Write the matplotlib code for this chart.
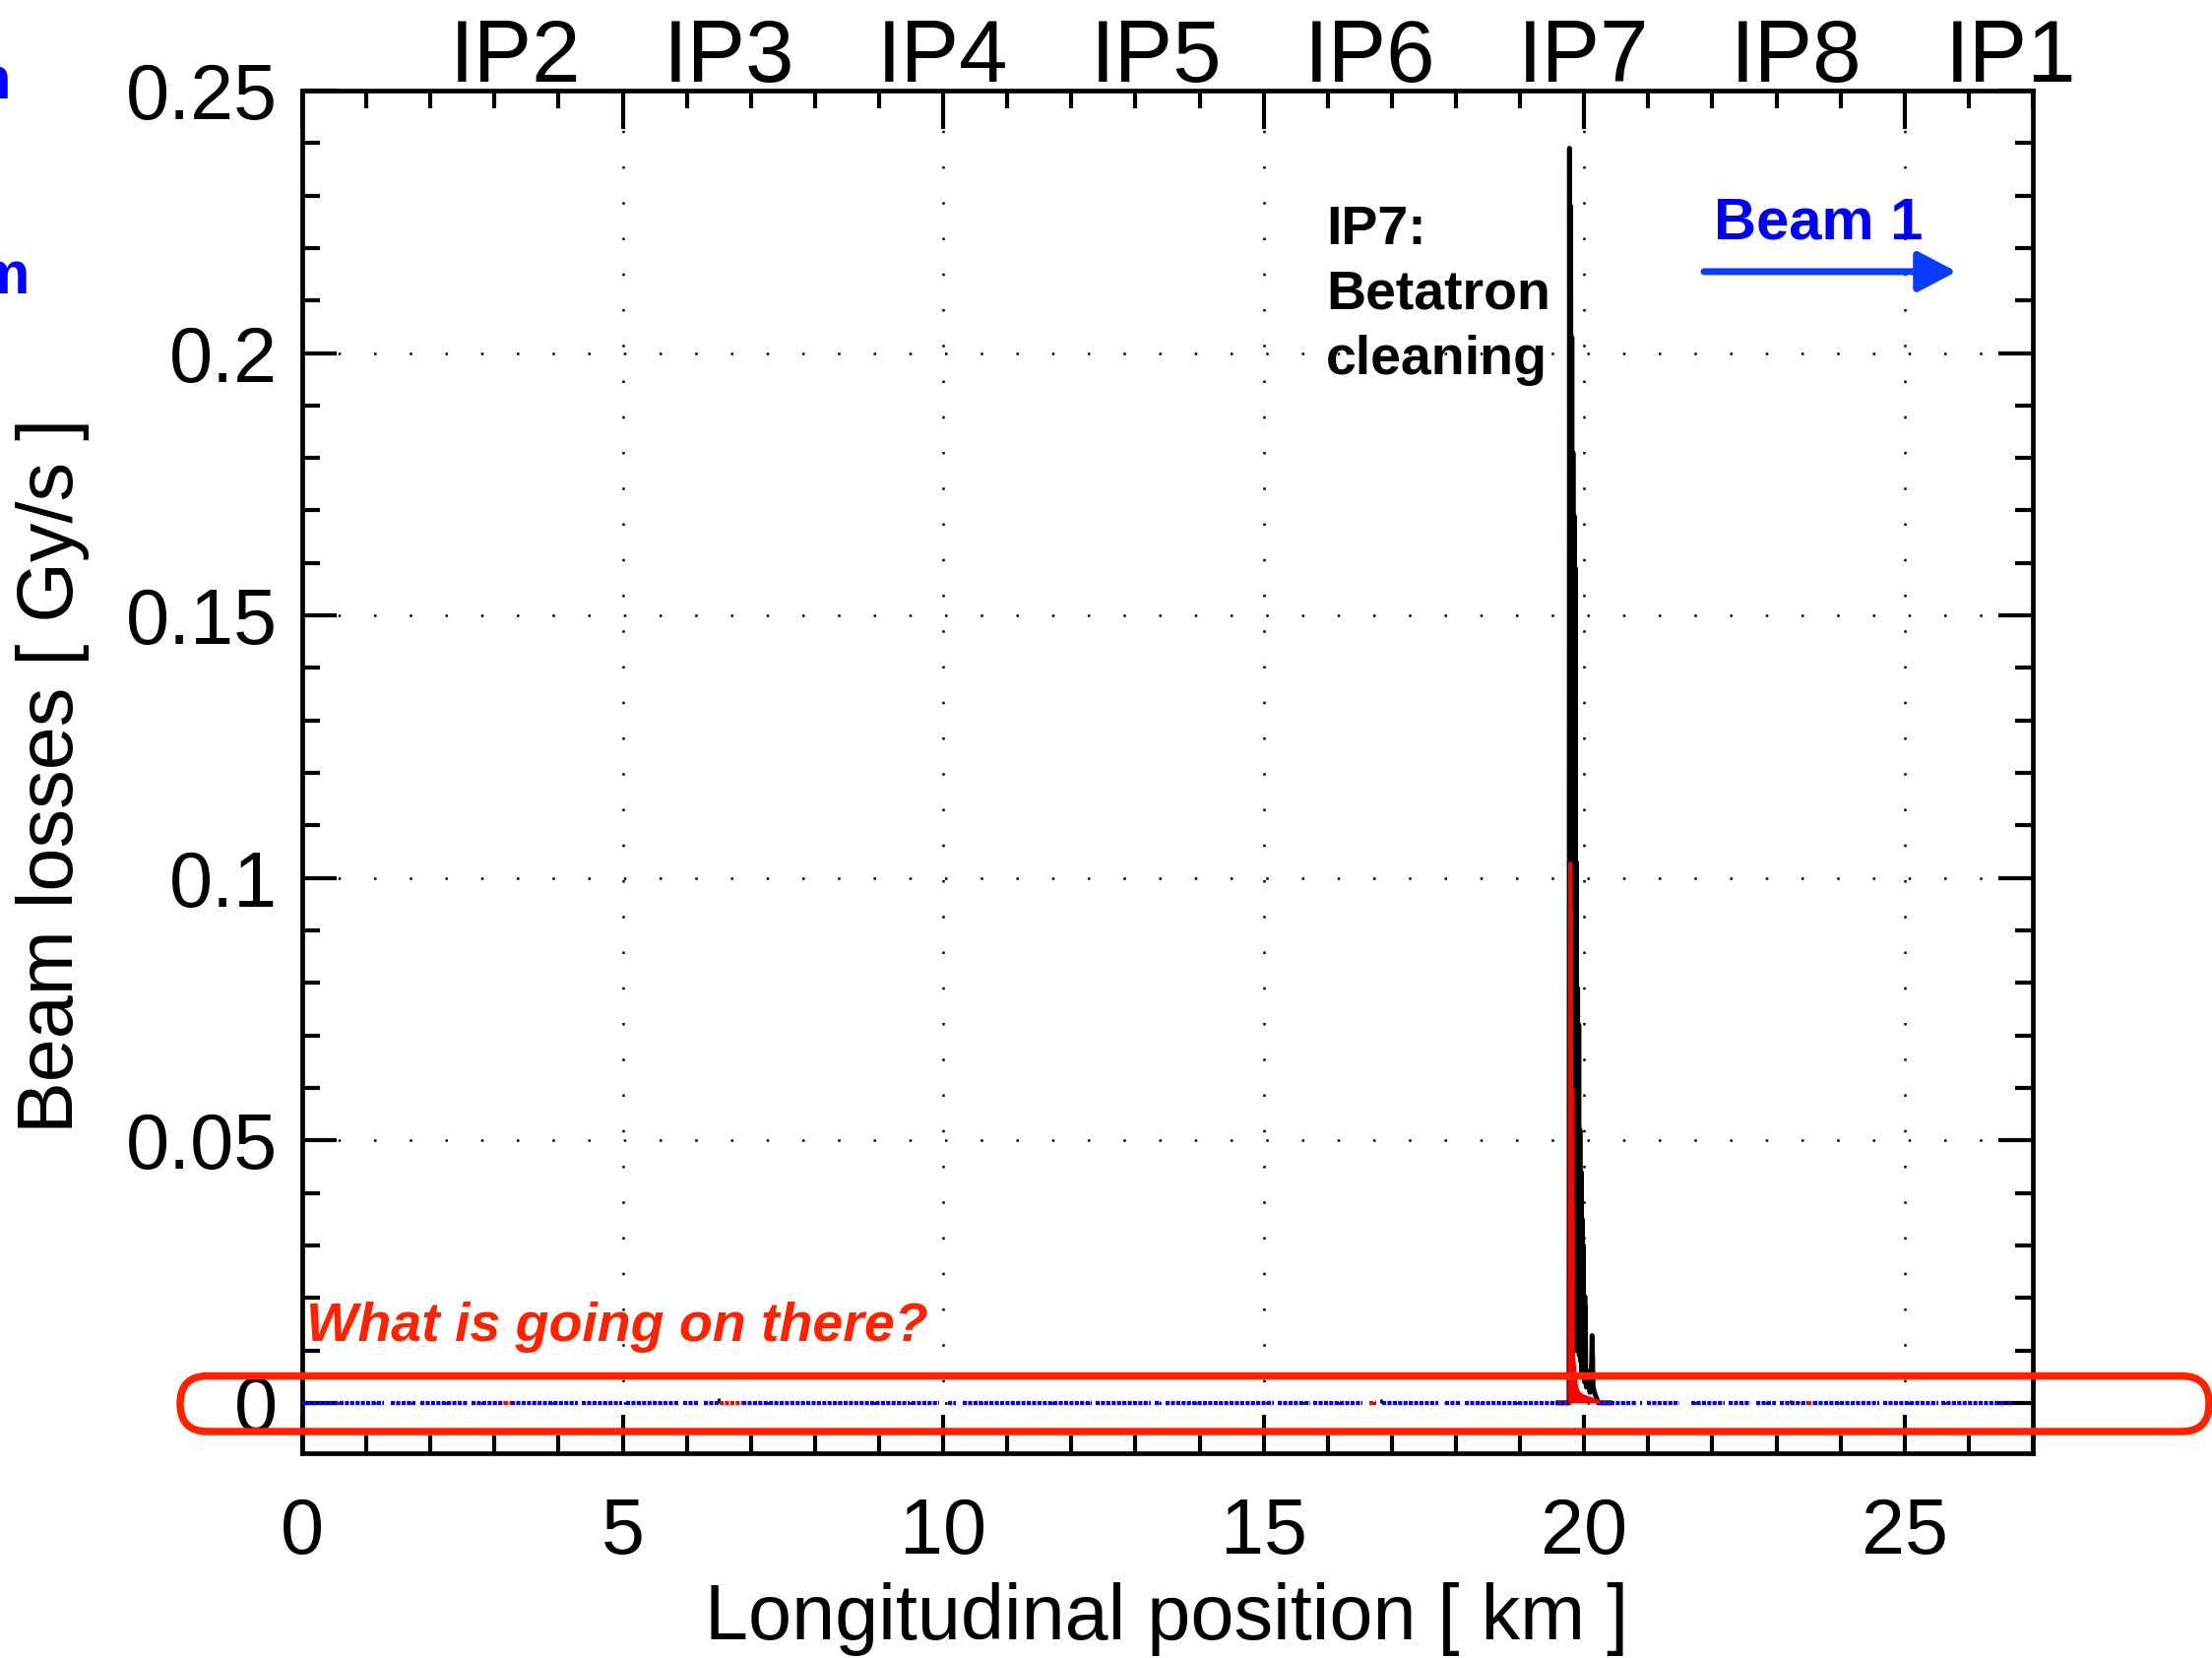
import matplotlib
matplotlib.use("Agg")
import matplotlib.pyplot as plt
from matplotlib.patches import FancyBboxPatch
from matplotlib.ticker import MultipleLocator, FixedLocator

plt.rcParams['font.family'] = ['Liberation Sans', 'DejaVu Sans']

# insertion points along the ring (km)
ip_names = ["IP2", "IP3", "IP4", "IP5", "IP6", "IP7", "IP8", "IP1"]
ip_pos = [3.332, 6.664, 9.997, 13.329, 16.661, 19.994, 23.315, 26.659]

x_ticks = [0, 5, 10, 15, 20, 25]
x_ticklabels = ["0", "5", "10", "15", "20", "25"]
y_ticks = [0, 0.05, 0.1, 0.15, 0.2, 0.25]
y_ticklabels = ["0", "0.05", "0.1", "0.15", "0.2", "0.25"]

# black signal: betatron cleaning losses in IP7
black_x = [19.60, 19.765, 19.772, 19.781, 19.790, 19.799, 19.808, 19.817, 19.826,
           19.835, 19.844, 19.853, 19.862, 19.871, 19.880, 19.889, 19.898, 19.907,
           19.916, 19.925, 19.934, 19.943, 19.952, 19.961, 19.970, 19.978, 19.986,
           19.993, 20.000, 20.005, 20.010, 20.014, 20.018, 20.024, 20.035, 20.050,
           20.070, 20.090, 20.110, 20.125, 20.140, 20.160, 20.190, 20.220, 20.40]
black_y = [0, 0, 0.239, 0.004, 0.228, 0.006, 0.203, 0.008, 0.181,
           0.010, 0.169, 0.012, 0.159, 0.010, 0.103, 0.012, 0.079, 0.010,
           0.072, 0.009, 0.052, 0.008, 0.044, 0.006, 0.035, 0.005, 0.030,
           0.006, 0.012, 0.004, 0.0203, 0.004, 0.0182, 0.005, 0.003, 0.004,
           0.006, 0.002, 0.004, 0.0128, 0.003, 0.002, 0.001, 0, 0]

# red signal
red_x = [19.60, 19.770, 19.779, 19.786, 19.793, 19.800, 19.807, 19.814, 19.821,
         19.828, 19.836, 19.846, 19.856, 19.866, 19.880, 19.900, 19.950, 20.000,
         20.050, 20.100, 20.150, 20.200, 20.240, 20.40]
red_y = [0, 0, 0.1028, 0.012, 0.094, 0.010, 0.060, 0.009, 0.038,
         0.0099, 0.0085, 0.0070, 0.0055, 0.0042, 0.0030, 0.0022, 0.0015, 0.0012,
         0.0010, 0.0008, 0.0006, 0.0004, 0, 0]

# blue monitors sitting at ~0, with the gaps where no dot is drawn
blue_start, blue_end = 0.0, 26.67
blue_gaps = [(1.27, 1.38), (1.77, 1.84), (2.58, 2.65), (3.15, 3.25), (4.30, 4.37),
             (4.99, 5.06), (5.86, 5.94), (6.18, 6.26), (6.52, 6.87), (9.47, 9.51),
             (9.93, 10.08), (10.20, 10.30), (12.32, 12.38), (13.24, 13.30),
             (13.40, 13.47), (15.16, 15.22), (15.73, 15.77), (16.54, 16.85),
             (17.72, 17.83), (18.06, 18.14), (19.76, 20.25), (20.82, 20.87),
             (20.91, 20.98), (21.48, 21.67), (22.20, 22.25), (22.60, 22.68),
             (22.99, 23.05), (23.48, 23.58), (24.60, 24.67), (25.53, 25.57),
             (26.58, 26.62)]
red_marks = [(3.15, 3.25), (6.52, 6.87), (16.65, 16.76), (23.48, 23.58)]
small_black_x = [6.49, 16.84, 23.22]
small_black_y = [0.0009, 0.0008, 0.0006]

fig = plt.figure(figsize=(22.47, 16.84), dpi=100)
ax = fig.add_axes([0.1366, 0.1235, 0.7824, 0.8219])

ax.plot(black_x, black_y, color='k', lw=3.6, zorder=2)
ax.vlines(small_black_x, [0] * len(small_black_x), small_black_y, color='k', lw=2.0, zorder=2)
ax.fill_between(red_x, 0, red_y, color='red', lw=0, zorder=3)
ax.plot(red_x, red_y, color='red', lw=2.6, zorder=3)

starts = [blue_start] + [g[1] for g in blue_gaps]
ends = [g[0] for g in blue_gaps] + [blue_end]
ax.hlines([0] * len(starts), starts, ends, colors='#0000ff',
          linestyles=[(0, (1.0, 0.3))], lw=3.0, zorder=4)
ax.hlines([0] * len(red_marks), [m[0] for m in red_marks], [m[1] for m in red_marks],
          colors='red', linestyles=[(0, (1.0, 0.3))], lw=3.0, zorder=4)

ax.set_xlim(0, 27)
ax.set_ylim(-0.0096, 0.25)
ax.xaxis.set_major_locator(FixedLocator(x_ticks))
ax.set_xticklabels(x_ticklabels)
ax.xaxis.set_minor_locator(MultipleLocator(1))
ax.yaxis.set_major_locator(FixedLocator(y_ticks))
ax.set_yticklabels(y_ticklabels)
ax.yaxis.set_minor_locator(MultipleLocator(0.01))

ax.tick_params(which='both', direction='in', top=True, right=True, width=3, labelsize=57)
ax.tick_params(axis='x', which='major', length=28, pad=32)
ax.tick_params(axis='x', which='minor', length=13)
ax.tick_params(axis='y', which='major', length=25, pad=18)
ax.tick_params(axis='y', which='minor', length=13)
for s in ax.spines.values():
    s.set_linewidth(3.4)
ax.grid(True, which='major', color='k', lw=1.8, ls=(0, (1, 13.5)))

# IP names along the top
for name, p in zip(ip_names, ip_pos):
    ax.text(p, 1.0065, name, transform=ax.get_xaxis_transform(), ha='center',
            va='baseline', fontsize=64)

fig.text(0.024, 0.532, "Beam losses [ Gy/s ]", rotation=90, ha='center', va='center', fontsize=57)
fig.text(0.5274, 0.0232, "Longitudinal position [ km ]", ha='center', va='center', fontsize=57)

ax.text(15.97, 0.2283, "IP7:\nBetatron\ncleaning", fontsize=40, fontweight='bold',
        ha='left', va='top', linespacing=1.35)
ax.text(22.03, 0.2217, "Beam 1", fontsize=43, fontweight='bold', color='#0000f5',
        ha='left', va='baseline')
ax.annotate("", xy=(25.81, 0.2155), xytext=(21.87, 0.2155),
            arrowprops=dict(arrowstyle='-|>,head_length=0.4,head_width=0.21',
                            mutation_scale=60, lw=5, color='#0a3cff',
                            shrinkA=0, shrinkB=0))
ax.text(0.06, 0.0118, "What is going on there?", fontsize=40, fontweight='bold',
        fontstyle='italic', color='#ff2200', ha='left', va='baseline')

# rounded frame around the zero line
frame = FancyBboxPatch((1.83, 2.30), 20.61, 0.565,
                       boxstyle="round,pad=0,rounding_size=0.28",
                       transform=fig.dpi_scale_trans, fill=False,
                       ec='#ff2200', lw=5.4, zorder=10)
fig.add_artist(frame)

# text from the slide cut off at the left border
fig.text(12.7 / 2247, 1 - 100 / 1684, "ion", ha='right', va='baseline',
         fontsize=44, fontweight='bold', color='#0000ff')
fig.text(31.7 / 2247, 1 - 298 / 1684, "Beam", ha='right', va='baseline',
         fontsize=44, fontweight='bold', color='#0000ff')

fig.savefig("out.png", dpi=100)
